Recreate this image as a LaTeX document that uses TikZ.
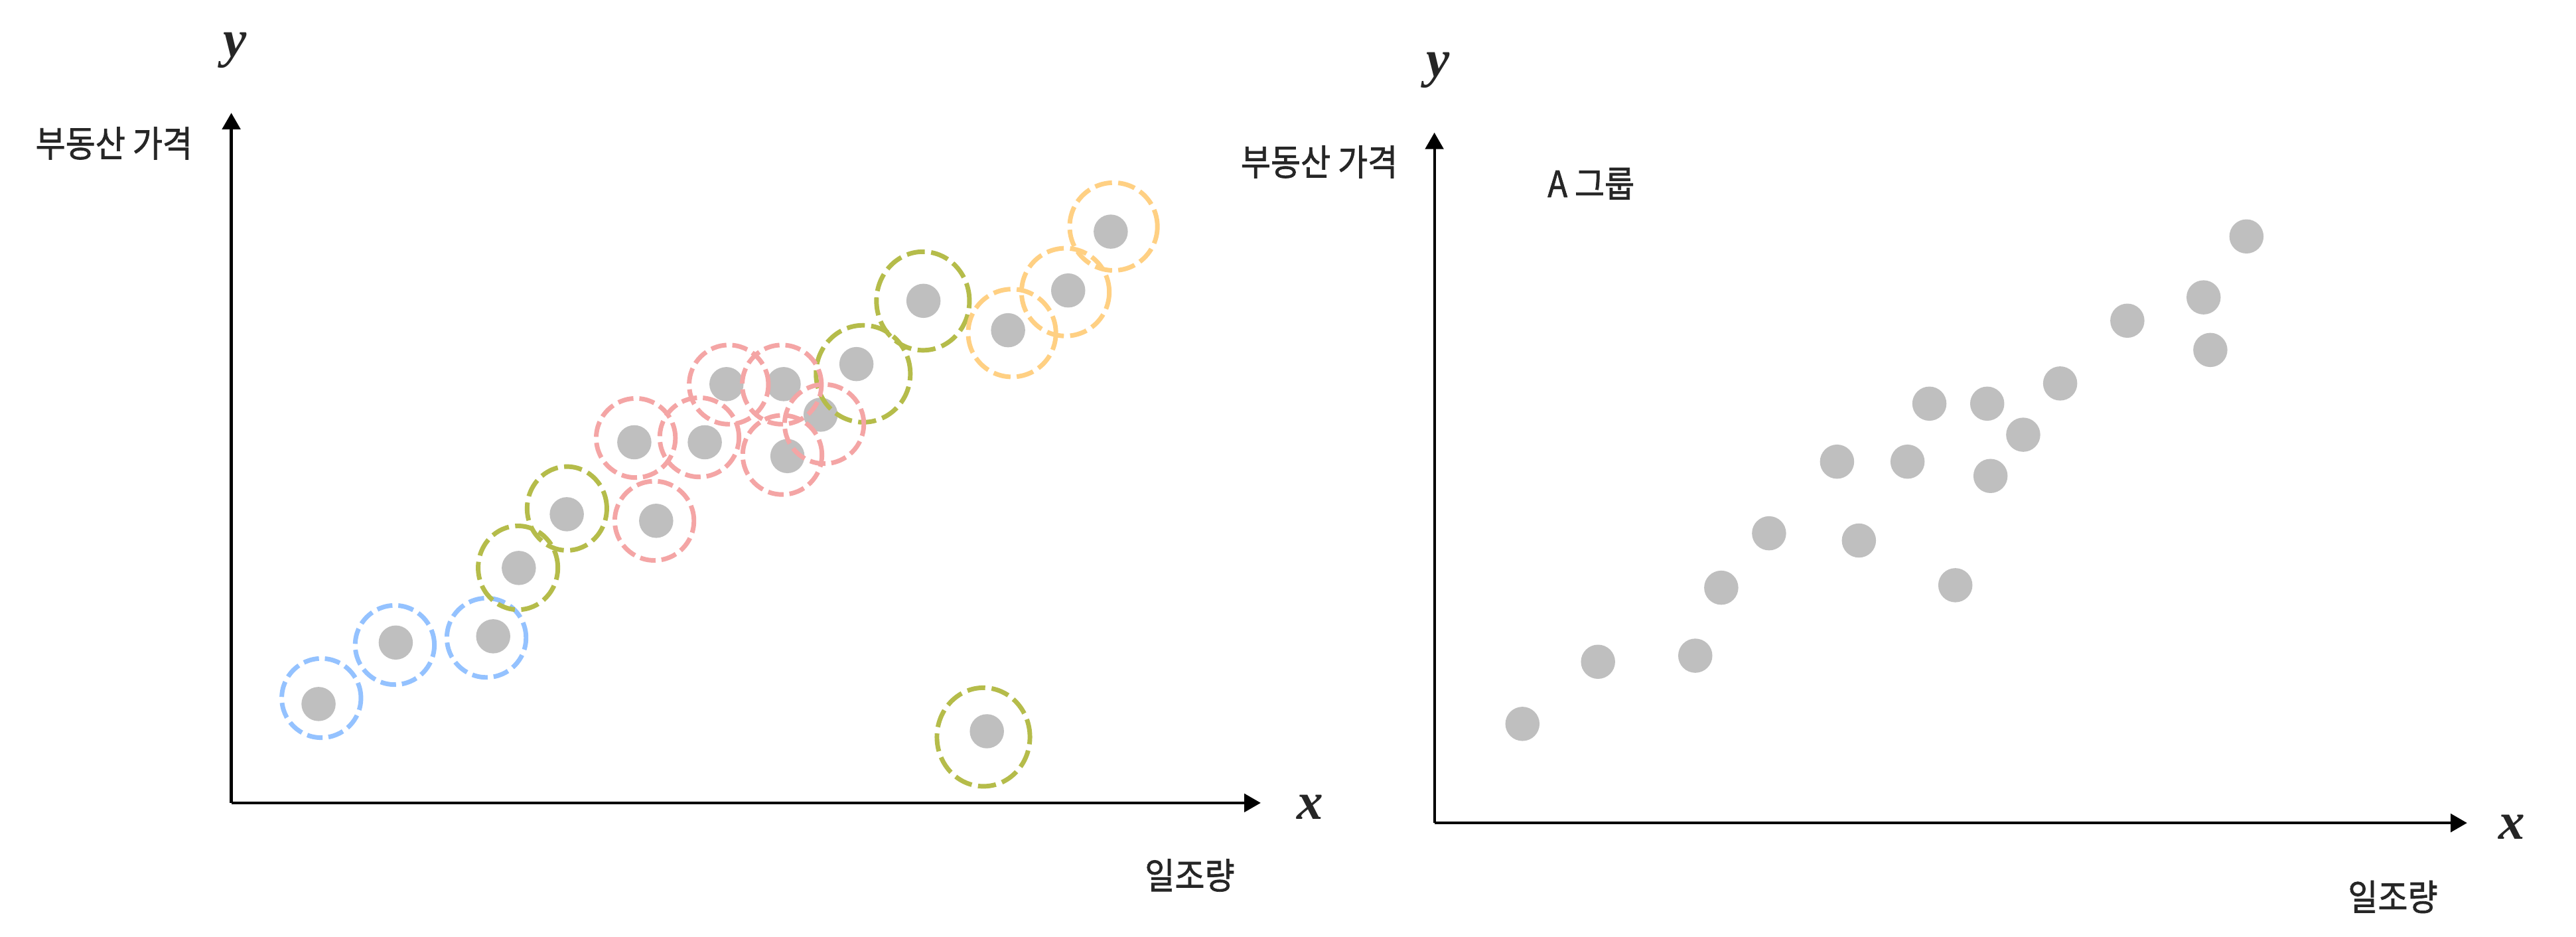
\documentclass[tikz,border=0pt]{standalone}
\usepackage{fontspec}
\usetikzlibrary{arrows.meta,shapes.geometric}
\newfontfamily\krfont{Noto Sans CJK KR}[FakeStretch=0.9,FakeBold=1.3]
\newfontfamily\varfont{Liberation Serif}
\definecolor{dotgray}{HTML}{BFBFBF}
\definecolor{cblue}{HTML}{94C2FF}
\definecolor{cgreen}{HTML}{B5BC4A}
\definecolor{cpink}{HTML}{F4A5A5}
\definecolor{corange}{HTML}{FFD083}
\definecolor{txt}{HTML}{262626}
\begin{document}
\begin{tikzpicture}[x=1pt,y=-1pt,
  dot/.style={circle,fill=dotgray,minimum size=20.8pt,inner sep=0pt},
  ring/.style={circle,draw=#1,line width=2.8pt,dash pattern=on 9.5pt off 3.6pt,minimum size=48.2pt,inner sep=0pt},
  oring/.style={circle,draw=corange,line width=2.8pt,dash pattern=on 10.5pt off 3.8pt,minimum size=53.4pt,inner sep=0pt},
  gring/.style n args={2}{ellipse,draw=cgreen,line width=2.8pt,dash pattern=on 11pt off 3.9pt,minimum width=#1,minimum height=#2,inner sep=0pt},
  axis/.style={line width=1.7pt,-{Triangle[length=10pt,width=11pt]}},
  kr/.style={font=\krfont\fontsize{22}{26}\selectfont,text=txt,inner sep=0pt},
  var/.style={font=\varfont\bfseries\itshape\fontsize{32}{36}\selectfont,text=txt,inner sep=0pt}
]
\useasboundingbox[fill=white] (0,0) rectangle (1568,570);

% ---------------- left panel ----------------
\coordinate (LO) at (140.8,488.7);
\coordinate (LY) at (140.8,68.7);
\coordinate (LX) at (767.4,488.7);
\draw[axis] (LO) -- (LY);
\draw[axis] (LO) -- (LX);
\node[var] (ly) at (143,30.6) {y};
\node[var] (lx) at (797.3,491.2) {x};
\node[kr] (lyl) at (69.4,87.2) {부동산 가격};
\node[kr] (lxl) at (724.2,532.8) {일조량};

% dots
\node[dot] (b1) at (193.9,428.5) {};
\node[dot] (b2) at (240.9,391.1) {};
\node[dot] (b3) at (300.2,387.3) {};
\node[dot] (g1) at (315.8,345.7) {};
\node[dot] (g2) at (345.0,313.0) {};
\node[dot] (g3) at (521.3,221.6) {};
\node[dot] (g4) at (562.1,183.1) {};
\node[dot] (g5) at (600.7,445.1) {};
\node[dot] (p1) at (386.1,269.2) {};
\node[dot] (p2) at (399.4,317.0) {};
\node[dot] (p3) at (429.0,269.2) {};
\node[dot] (p4) at (442.2,233.8) {};
\node[dot] (p5) at (477.0,233.8) {};
\node[dot] (p6) at (479.3,277.6) {};
\node[dot] (p7) at (499.5,252.4) {};
\node[dot] (o1) at (613.6,201.0) {};
\node[dot] (o2) at (650.2,176.8) {};
\node[dot] (o3) at (676.1,141.0) {};

% rings
\node[ring=cblue] (rb1) at (195.6,424.9) {};
\node[ring=cblue] (rb2) at (240.3,392.6) {};
\node[ring=cblue] (rb3) at (296.1,388.2) {};
\node[gring={48.5pt}{51pt}] (rg1) at (315.3,345.6) {};
\node[gring={48.5pt}{51pt}] (rg2) at (345.1,309.5) {};
\node[gring={57.4pt}{59pt}] (rg3) at (525.4,227.5) {};
\node[gring={56.6pt}{60pt}] (rg4) at (561.8,183.2) {};
\node[gring={56.6pt}{60pt}] (rg5) at (598.6,448.6) {};
\node[ring=cpink] (rp1) at (387.0,266.6) {};
\node[ring=cpink] (rp2) at (398.3,317.0) {};
\node[ring=cpink] (rp3) at (425.7,266.2) {};
\node[ring=cpink] (rp4) at (443.6,234.1) {};
\node[ring=cpink] (rp5) at (475.9,234.1) {};
\node[ring=cpink] (rp6) at (476.2,276.9) {};
\node[ring=cpink] (rp7) at (501.7,258.1) {};
\node[oring] (ro1) at (616.0,202.7) {};
\node[oring] (ro2) at (648.5,177.8) {};
\node[oring] (ro3) at (677.8,137.9) {};

% ---------------- right panel ----------------
\coordinate (RO) at (873.1,500.9);
\coordinate (RY) at (873.1,80.7);
\coordinate (RX) at (1501.7,500.9);
\draw[axis] (RO) -- (RY);
\draw[axis] (RO) -- (RX);
\node[var] (ry) at (875.5,42.9) {y};
\node[var] (rx) at (1528.8,503.2) {x};
\node[kr] (ryl) at (803,98.5) {부동산 가격};
\node[kr] (rxl) at (1456.5,545.9) {일조량};
\node[kr] (grp) at (968.5,111.8) {A 그룹};

\node[dot] (q1) at (926.7,440.6) {};
\node[dot] (q2) at (972.7,402.8) {};
\node[dot] (q3) at (1031.9,399.1) {};
\node[dot] (q4) at (1047.7,357.7) {};
\node[dot] (q5) at (1076.8,324.6) {};
\node[dot] (q6) at (1118.2,281.0) {};
\node[dot] (q7) at (1131.5,329.0) {};
\node[dot] (q8) at (1161.1,281.0) {};
\node[dot] (q9) at (1174.4,245.7) {};
\node[dot] (q10) at (1190.2,356.2) {};
\node[dot] (q11) at (1209.6,245.7) {};
\node[dot] (q12) at (1211.6,289.7) {};
\node[dot] (q13) at (1231.5,264.6) {};
\node[dot] (q14) at (1254.0,233.4) {};
\node[dot] (q15) at (1294.9,195.2) {};
\node[dot] (q16) at (1341.3,181.0) {};
\node[dot] (q17) at (1345.4,213.0) {};
\node[dot] (q18) at (1367.4,143.9) {};
\end{tikzpicture}
\end{document}
